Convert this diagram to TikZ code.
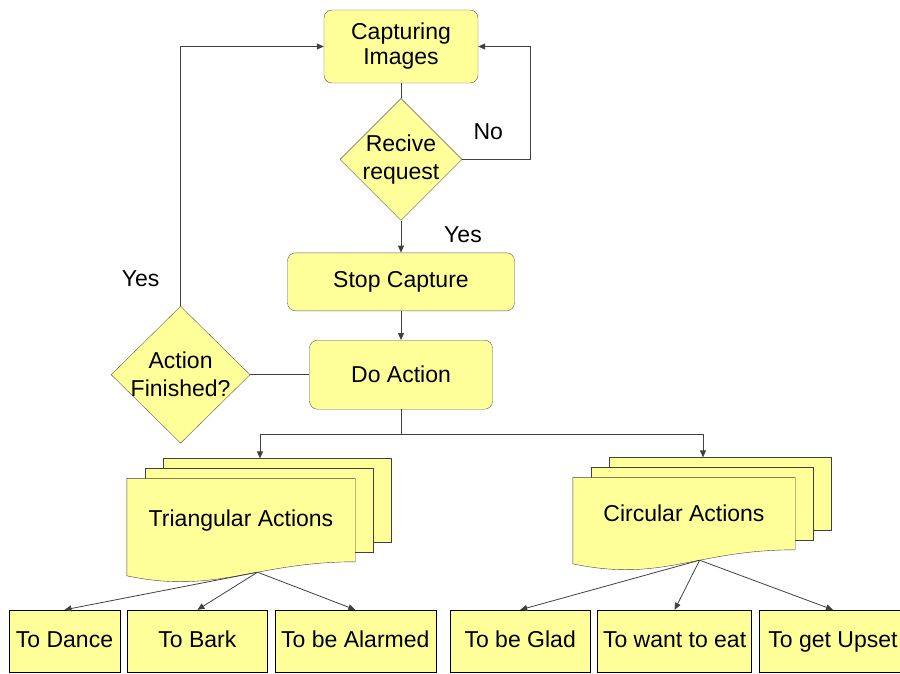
\documentclass[tikz,border=0pt]{standalone}
\usepackage{fontspec}
\setmainfont{Liberation Sans}
\usetikzlibrary{arrows.meta, positioning, shapes.geometric, calc, backgrounds}

\definecolor{noteyellow}{HTML}{FFFF99}
\definecolor{edgegray}{HTML}{5A5A5A}
\definecolor{linegray}{HTML}{404040}

\tikzset{
  proc/.style={draw=edgegray, fill=noteyellow, rounded corners=8pt, inner sep=0pt},
  decision/.style={diamond, draw=edgegray, fill=noteyellow, inner sep=0pt},
  decisiontext/.style={align=center, font=\fontsize{23}{28}\selectfont},
  sheet/.style={draw=linegray, fill=noteyellow},
  leaf/.style={draw=black, fill=noteyellow, minimum height=62pt, inner sep=0pt, text height=17pt, text depth=5pt},
  flow/.style={draw=linegray, line width=0.8pt},
  arr/.style={flow, -{Triangle[length=7pt, width=6pt]}},
}

\newcommand{\sheetstack}[1]{%
  \draw[sheet] ($(#1.north west)+(36,20)$) rectangle ($(#1.south east)+(36,20)$);
  \draw[sheet] ($(#1.north west)+(18,10)$) rectangle ($(#1.south east)+(18,10)$);
  \draw[sheet] (#1.north west) -- (#1.north east) -- (#1.south east)
    .. controls +(-100,0) and +(90,-19) .. ($(#1.south west)+(0,-14)$) coordinate[pos=0.4] (#1-b) -- cycle;
  \coordinate (#1-t) at ($(#1.north)+(19,20)$);
}

\begin{document}
\begin{tikzpicture}[x=1pt, y=1pt, every node/.style={font=\fontsize{23}{25}\selectfont}]
    \useasboundingbox (0,0) rectangle (900,-673);
    \clip (0,0) rectangle (900,-673);
    \node[proc, minimum width=154pt, minimum height=73pt, align=center] (cap) at (401,-46.5) {Capturing\\Images};
    \node[decision, minimum width=122pt, minimum height=122pt, below=15pt of cap, label={[decisiontext]center:Recive\\request}] (req) {};
    \node[proc, minimum width=227pt, minimum height=58pt, below=32pt of req] (stop) {Stop Capture};
    \node[proc, minimum width=183pt, minimum height=69pt, below=29pt of stop] (act) {Do Action};
    \node[decision, minimum width=139pt, minimum height=137pt, left=59pt of act, label={[decisiontext]center:Action\\Finished?}] (fin) {};
    \node[minimum width=228pt, minimum height=83pt, below=69pt of act, xshift=-160pt] (tri) {Triangular Actions};
    \node[minimum width=222pt, minimum height=72pt, below=68pt of act, xshift=283pt] (cir) {Circular Actions};
    \begin{scope}[on background layer]
      \sheetstack{tri}
      \sheetstack{cir}
    \end{scope}
    \node[leaf, minimum width=111pt] (dance) at (64.5,-641) {To Dance};
    \node[leaf, minimum width=140pt, right=7pt of dance] (bark) {To Bark};
    \node[leaf, minimum width=161pt, right=7pt of bark] (alarm) {To be Alarmed};
    \node[leaf, minimum width=140pt, right=14pt of alarm] (glad) {To be Glad};
    \node[leaf, minimum width=154pt, right=7pt of glad] (eat) {To want to eat};
    \node[leaf, minimum width=148pt, right=7pt of eat] (upset) {To get Upset};
    \node (no) at ($(req.east)+(26,28)$) {No};
    \node (yesreq) at ($(req.south)+(62,-14)$) {Yes};
    \node (yesfin) at ($(fin.north)+(-40,27)$) {Yes};
    \draw[flow] (cap) -- (req);
    \draw[arr] (req) -- (stop);
    \draw[arr] (stop) -- (act);
    \draw[flow] (act) -- (fin);
    \draw[arr] (req.east) -- ++(68,0) |- (cap.east);
    \draw[arr] (fin.north) |- (cap.west);
    \draw[arr] (act.south) -- ++(0,-25) -| (tri-t);
    \draw[arr] (act.south) -- ++(0,-25) -| (cir-t);
    \draw[arr] (tri-b) -- (dance.north);
    \draw[arr] (tri-b) -- (bark.north);
    \draw[arr] (tri-b) -- (alarm.north);
    \draw[arr] (cir-b) -- (glad.north);
    \draw[arr] (cir-b) -- (eat.north);
    \draw[arr] (cir-b) -- (upset.north);
  \end{tikzpicture}
\end{document}
